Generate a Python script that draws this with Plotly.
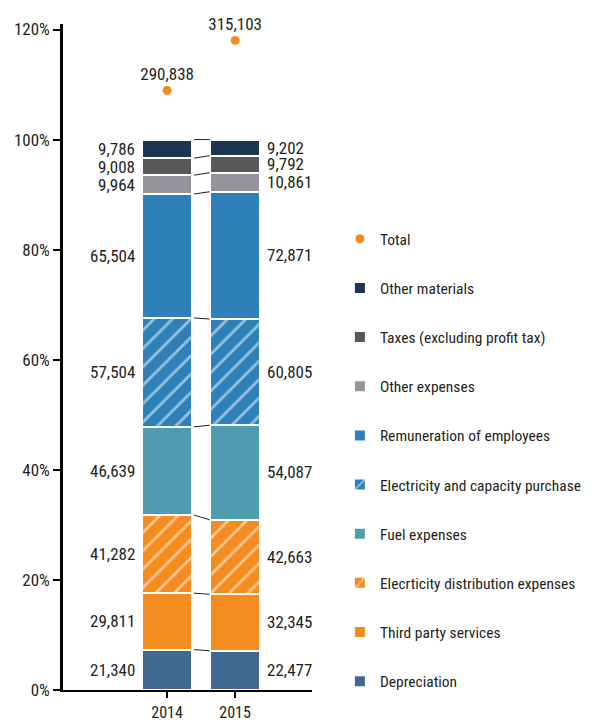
"""Operating expenses structure 2014-2015 — 100% stacked bars with value labels."""

import plotly.graph_objects as go

FONT = "'Roboto Condensed','Liberation Sans Narrow','DejaVu Sans Condensed','Roboto',sans-serif"
TEXT = "#231f20"

YEARS = ["2014", "2015"]

# bottom -> top
CATEGORIES = [
    "Depreciation",
    "Third party services",
    "Elecrticity distribution expenses",
    "Fuel expenses",
    "Electricity and capacity purchase",
    "Remuneration of employees",
    "Other expenses",
    "Taxes (excluding profit tax)",
    "Other materials",
]
VALUES_2014 = [21340, 29811, 41282, 46639, 57504, 65504, 9964, 9008, 9786]
VALUES_2015 = [22477, 32345, 42663, 54087, 60805, 72871, 10861, 9792, 9202]
TOTALS = [290838, 315103]
# the total dots sit on the % axis at total / TOTAL_SCALE
TOTAL_SCALE = 2670

Y_TICKS = [0, 20, 40, 60, 80, 100, 120]

COLORS = ["#416891", "#f58c1f", "#f58c1f", "#4f9bb0", "#2e80b8",
          "#2e80b8", "#939598", "#58585a", "#1c3550"]
HATCHED = [False, False, True, False, True, False, False, False, False]
ORANGE = "#f28c1e"

BAR_W = 0.73


def shares(vals):
    s = sum(vals)
    return [v / s * 100 for v in vals]


def cumulative(vals):
    out, acc = [], 0
    for v in vals:
        acc += v
        out.append(acc)
    return out


p14, p15 = shares(VALUES_2014), shares(VALUES_2015)
c14, c15 = cumulative(p14), cumulative(p15)

fig = go.Figure()

n = len(CATEGORIES)
for i, cat in enumerate(CATEGORIES):
    pattern = (
        dict(shape="/", fillmode="overlay", fgcolor="white", bgcolor=COLORS[i], size=13, solidity=0.22)
        if HATCHED[i] else None
    )
    fig.add_trace(
        go.Bar(
            x=[0, 1],
            y=[p14[i], p15[i]],
            width=BAR_W,
            name=cat,
            marker=dict(color=COLORS[i], line=dict(color="white", width=2), pattern=pattern),
            legendrank=n - i + 1,
            legendgroup=cat,
            hovertemplate=f"{cat}<br>%{{y:.1f}}%<extra></extra>",
        )
    )

# connector lines between the bars at each segment boundary
for a, b in zip(c14, c15):
    fig.add_trace(
        go.Scatter(
            x=[BAR_W / 2 + 0.03, 1 - BAR_W / 2 - 0.01],
            y=[a, b],
            mode="lines",
            line=dict(color=TEXT, width=1),
            showlegend=False,
            hoverinfo="skip",
        )
    )

fig.add_trace(
    go.Scatter(
        x=[0, 1],
        y=[t / TOTAL_SCALE for t in TOTALS],
        mode="markers+text",
        marker=dict(color=ORANGE, size=9),
        text=[f"{t:,}" for t in TOTALS],
        textposition="top center",
        textfont=dict(size=17, color=TEXT, family=FONT),
        cliponaxis=False,
        name="Total",
        legendrank=1,
        legendgroup="Total",
        hoverinfo="skip",
    )
)

# value labels: 2014 on the left, 2015 on the right
prev14 = prev15 = 0
for i in range(n):
    fig.add_annotation(
        x=-BAR_W / 2, y=(prev14 + c14[i]) / 2, text=f"{VALUES_2014[i]:,}",
        xanchor="right", xshift=-5, showarrow=False,
        font=dict(size=17, color=TEXT, family=FONT),
    )
    fig.add_annotation(
        x=1 + BAR_W / 2, y=(prev15 + c15[i]) / 2, text=f"{VALUES_2015[i]:,}",
        xanchor="left", xshift=5, showarrow=False,
        font=dict(size=17, color=TEXT, family=FONT),
    )
    prev14, prev15 = c14[i], c15[i]

# page body has an 8px margin, so the figure is drawn 8px smaller
fig.update_layout(
    width=587,
    height=714,
    barmode="stack",
    paper_bgcolor="white",
    plot_bgcolor="white",
    font=dict(family=FONT, color=TEXT, size=16),
    margin=dict(l=55, r=283, t=16, b=32, autoexpand=False),
    xaxis=dict(
        range=[-1.53, 2.13],
        tickvals=[0, 1],
        ticktext=YEARS,
        ticks="outside",
        ticklen=6,
        tickwidth=2,
        tickcolor="black",
        showline=True,
        linecolor="black",
        linewidth=2,
        showgrid=False,
        zeroline=False,
        ticklabelstandoff=1,
        tickfont=dict(size=16, color=TEXT),
    ),
    yaxis=dict(
        range=[0, 121],
        tickvals=Y_TICKS,
        ticktext=[f"{t}%" for t in Y_TICKS],
        ticks="outside",
        ticklen=7,
        tickwidth=2,
        tickcolor="black",
        showline=True,
        linecolor="black",
        linewidth=2.5,
        showgrid=False,
        zeroline=False,
        tickfont=dict(size=17, color=TEXT),
    ),
    legend=dict(
        x=1.112,
        xanchor="left",
        y=0.345,
        yanchor="middle",
        traceorder="grouped",
        tracegroupgap=26,
        font=dict(size=15.5, color=TEXT),
        itemwidth=30,
    ),
)

fig.write_html("out.html")
